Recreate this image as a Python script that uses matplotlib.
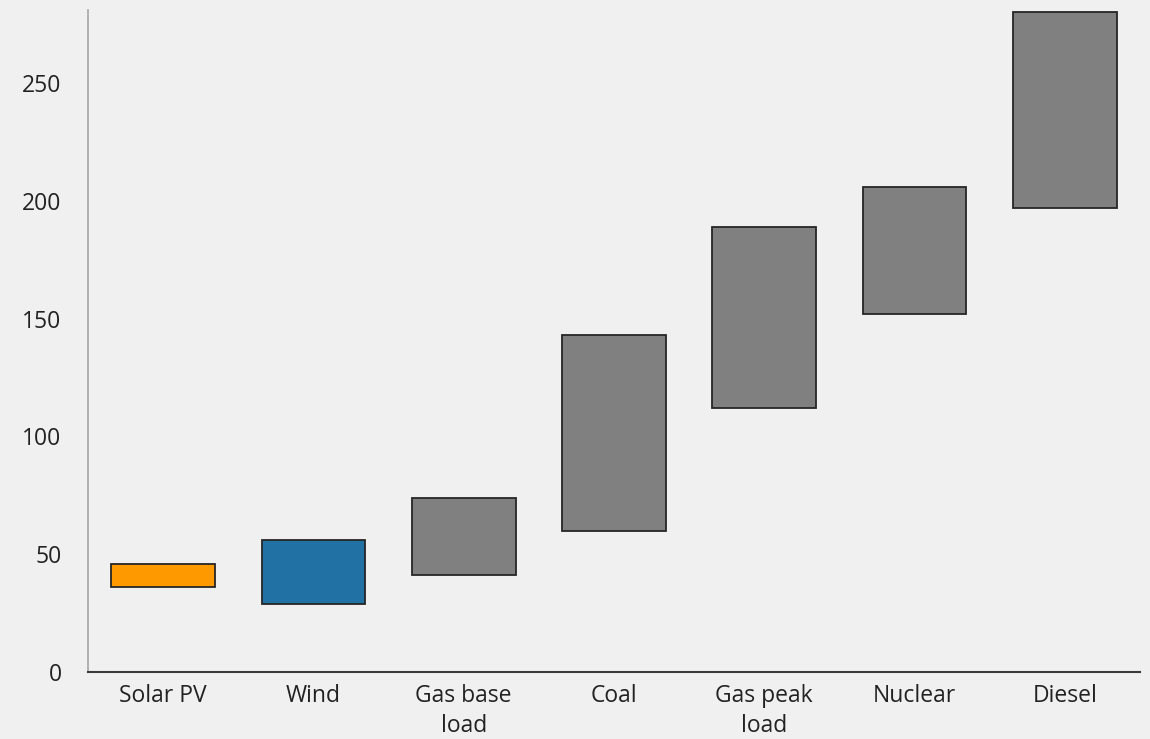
import matplotlib
matplotlib.use("Agg")
import matplotlib.pyplot as plt

# Cost ranges per technology (low, high)
technologies = ["Solar PV", "Wind", "Gas base\nload", "Coal", "Gas peak\nload", "Nuclear", "Diesel"]
cost_low = [36, 29, 41, 60, 112, 152, 197]
cost_high = [46, 56, 74, 143, 189, 206, 280]
bar_colors = ["#ff9900", "#2171a5", "#808080", "#808080", "#808080", "#808080", "#808080"]
y_ticks = [0, 50, 100, 150, 200, 250]

plt.rcParams["font.family"] = ["Open Sans", "DejaVu Sans"]

bg = "#f0f0f0"
fig = plt.figure(figsize=(11.5, 7.39), dpi=100, facecolor=bg)
ax = fig.add_axes([0.0765, 0.0907, 0.9148, 0.8958], facecolor=bg)

x = range(len(technologies))
heights = [h - l for l, h in zip(cost_low, cost_high)]
ax.bar(x, heights, bottom=cost_low, width=0.69, color=bar_colors,
       edgecolor="#262626", linewidth=1.3, zorder=3)

ax.set_xlim(-0.5, len(technologies) - 0.5)
ax.set_ylim(0, 281)
ax.set_yticks(y_ticks)
ax.set_xticks(list(x))
ax.set_xticklabels(technologies, linespacing=1.33)
ax.tick_params(axis="both", length=0, labelsize=16.5, colors="#222222")
ax.tick_params(axis="y", pad=19)
ax.tick_params(axis="x", pad=9)
for lab in ax.get_yticklabels():
    lab.set_horizontalalignment("right")

for side in ("top", "right"):
    ax.spines[side].set_visible(False)
ax.spines["left"].set_color("#a6a6a6")
ax.spines["left"].set_linewidth(1.2)
ax.spines["bottom"].set_color("#3a3a3a")
ax.spines["bottom"].set_linewidth(1.5)

fig.savefig("out.png", dpi=100, facecolor=bg)
